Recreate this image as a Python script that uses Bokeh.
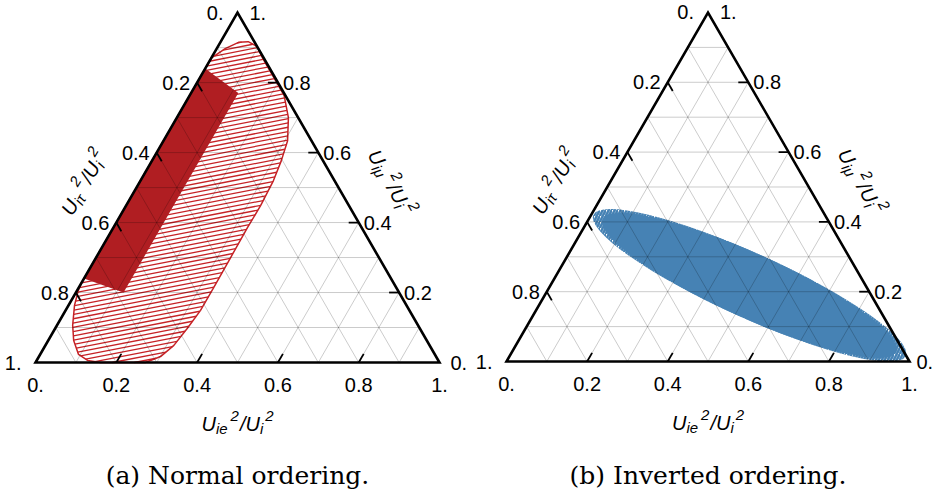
import math
from bokeh.plotting import figure
from bokeh.layouts import row
from bokeh.core.properties import value
from bokeh.embed import file_html
from bokeh.resources import INLINE

# ---------------- data ----------------
TICK_VALUES = [0.0, 0.2, 0.4, 0.6, 0.8, 1.0]
TICK_LABELS = ["0.", "0.2", "0.4", "0.6", "0.8", "1."]
GRID_VALUES = [0.1, 0.2, 0.3, 0.4, 0.5, 0.6, 0.7, 0.8, 0.9]

CAPTIONS = ["(a) Normal ordering.", "(b) Inverted ordering."]

# (a) Normal ordering: hatched region outline, ternary coords (U_ie^2, U_imu^2)
NO_HATCH_E = [0.000, 0.021, 0.045, 0.068, 0.097, 0.128, 0.185, 0.234, 0.276, 0.307,
              0.320, 0.329, 0.333, 0.332, 0.333, 0.334, 0.334, 0.327, 0.318, 0.301,
              0.272, 0.161, 0.126, 0.095, 0.063, 0.039, 0.015, 0.003, 0.000]
NO_HATCH_MU = [0.870, 0.897, 0.915, 0.917, 0.903, 0.869, 0.812, 0.763, 0.700, 0.634,
               0.577, 0.520, 0.449, 0.386, 0.300, 0.214, 0.149, 0.097, 0.049, 0.017,
               0.000, 0.000, 0.006, 0.023, 0.063, 0.106, 0.163, 0.206, 0.229]
# (a) solid region
NO_SOLID_E = [0.000, 0.117, 0.118, 0.000]
NO_SOLID_MU = [0.840, 0.770, 0.200, 0.240]

# (b) Inverted ordering: ellipse (centre in ternary coords, axes in units of side length)
IO_CENTER_E = 0.494
IO_CENTER_MU = 0.218
IO_MAJOR = 0.85
IO_SOLID_MAJOR = 0.80
IO_MINOR = 0.16
IO_ANGLE_DEG = -24.3

RED_SOLID = "#b01e22"
RED_LINE = "#c62226"
BLUE = "#4682b4"
SQ3 = math.sqrt(3) / 2

W, H = 468, 496
SANS = "Liberation Sans"
SERIF = "DejaVu Serif"


def cart(e, mu):
    return e + mu / 2.0, mu * SQ3


def hatch_segments(px, py, ang_deg, spacing):
    """Clip parallel lines (angle, spacing in data units) to the polygon."""
    a = math.radians(ang_deg)
    dx, dy = math.cos(a), math.sin(a)
    nx, ny = -dy, dx
    n = len(px)
    proj = [px[i] * nx + py[i] * ny for i in range(n)]
    cmin, cmax = min(proj), max(proj)
    xs, ys = [], []
    c = cmin + spacing / 2.0
    while c < cmax:
        pts = []
        for i in range(n):
            j = (i + 1) % n
            c1, c2 = proj[i], proj[j]
            if (c1 - c) * (c2 - c) < 0:
                t = (c - c1) / (c2 - c1)
                X = px[i] + t * (px[j] - px[i])
                Y = py[i] + t * (py[j] - py[i])
                pts.append((X * dx + Y * dy, X, Y))
        pts.sort()
        for k in range(0, len(pts) - 1, 2):
            xs.append([pts[k][1], pts[k + 1][1]])
            ys.append([pts[k][2], pts[k + 1][2]])
        c += spacing
    return xs, ys


CW = {"U": 0.722, "i": 0.222, "e": 0.556, "τ": 0.5, "μ": 0.576, "2": 0.556, "/": 0.278, " ": 0.278}


def run_w(t, sz):
    return sum(CW.get(c, 0.55) for c in t) * sz


def rich(p, s, bx, by, ang_deg, runs):
    th = math.radians(ang_deg)
    ux, uy = math.cos(th), math.sin(th)
    vx, vy = -uy, ux
    total = sum(run_w(t, sz) + gap for t, sz, rise, gap in runs)
    adv = -total / 2.0
    for t, sz, rise, gap in runs:
        px = adv * ux + rise * vx
        py = adv * uy + rise * vy
        p.text(x=[bx + px / s], y=[by + py / s], text=[t], angle=th,
               text_font=value(SANS), text_font_style="italic",
               text_font_size=f"{sz}px", text_align="left",
               text_baseline="alphabetic", text_color="black")
        adv += run_w(t, sz) + gap


def title_runs(sub):
    return [("U", 20, 0, 0), (sub, 15, -5, 3), ("2", 15, 8, 1),
            ("/", 20, 0, 0), ("U", 20, 0, 0), ("i", 15, -5, 2), ("2", 15, 8, 0)]


def panel(ox, oy, s, caption, kind, corner_off):
    p = figure(width=W, height=H, output_backend="svg", toolbar_location=None,
               x_axis_location=None, y_axis_location=None,
               x_range=(-ox / s, (W - ox) / s), y_range=(-(H - oy) / s, oy / s),
               min_border=0, outline_line_color=None, background_fill_color="white")
    p.grid.visible = False

    # ---- regions ----
    if kind == "normal":
        xs, ys = zip(*[cart(e, m) for e, m in zip(NO_HATCH_E, NO_HATCH_MU)])
        hx, hy = hatch_segments(list(xs), list(ys), 11.0, 4.2 / s)
        p.multi_line(hx, hy, line_color=RED_LINE, line_width=1.3)
        p.patch(list(xs), list(ys), fill_color=None, line_color=RED_LINE, line_width=1.5)
        xs, ys = zip(*[cart(e, m) for e, m in zip(NO_SOLID_E, NO_SOLID_MU)])
        p.patch(list(xs), list(ys), fill_color=RED_SOLID, line_color=None)
    else:
        cx, cy = cart(IO_CENTER_E, IO_CENTER_MU)
        p.ellipse(x=[cx], y=[cy], width=[IO_MAJOR], height=[IO_MINOR],
                  angle=math.radians(IO_ANGLE_DEG), fill_color=None,
                  hatch_pattern="/", hatch_color=BLUE, hatch_scale=6,
                  hatch_weight=2.5, line_color=None)
        p.ellipse(x=[cx], y=[cy], width=[IO_SOLID_MAJOR], height=[IO_MINOR],
                  angle=math.radians(IO_ANGLE_DEG), fill_color=BLUE, line_color=None)

    # ---- grid ----
    gx, gy = [], []
    for k in GRID_VALUES:
        a, b = cart(0, k), cart(1 - k, k)          # constant mu
        gx.append([a[0], b[0]]); gy.append([a[1], b[1]])
        a, b = cart(k, 0), cart(k, 1 - k)          # constant e
        gx.append([a[0], b[0]]); gy.append([a[1], b[1]])
        a, b = cart(1 - k, 0), cart(0, 1 - k)      # constant tau
        gx.append([a[0], b[0]]); gy.append([a[1], b[1]])
    p.multi_line(gx, gy, line_color="black", line_alpha=0.26, line_width=0.8)

    # ---- triangle ----
    p.patch([0, 1, 0.5], [0, 0, SQ3], fill_color=None, line_color="black",
            line_width=2.6, line_join="miter")

    # ---- ticks ----
    L = 10.0 / s
    tx, ty = [], []
    for v in TICK_VALUES[1:-1]:
        x0, y0 = cart(v, 0)                       # bottom axis (U_ie)
        tx.append([x0, x0 + 0.5 * L]); ty.append([y0, y0 + SQ3 * L])
        x0, y0 = cart(0, 1 - v)                   # left axis (U_itau)
        tx.append([x0, x0 + 0.5 * L]); ty.append([y0, y0 - SQ3 * L])
        x0, y0 = cart(1 - v, v)                   # right axis (U_imu)
        tx.append([x0, x0 - L]); ty.append([y0, y0])
    p.multi_line(tx, ty, line_color="black", line_width=1.8)

    # ---- tick labels ----
    fs = "20px"
    bx = [cart(v, 0)[0] for v in TICK_VALUES]
    p.text(x=bx, y=[-22.0 / s] * len(bx), text=TICK_LABELS, text_font=value(SANS),
           text_font_size=fs, text_align="center", text_baseline="middle")
    lx, ly = [], []
    for v in TICK_VALUES:
        x0, y0 = cart(0, 1 - v)
        off = 14.0 if v in (0.0, 1.0) else 7.0
        lx.append(x0 - off / s); ly.append(y0)
    p.text(x=lx, y=ly, text=TICK_LABELS, text_font=value(SANS), text_font_size=fs,
           text_align="right", text_baseline="middle")
    rx, ry = [], []
    for v in TICK_VALUES:
        x0, y0 = cart(1 - v, v)
        if v == 0.0:
            off = corner_off
        elif v == 1.0:
            off = 12.0
        else:
            off = 5.0
        rx.append(x0 + off / s); ry.append(y0)
    p.text(x=rx, y=ry, text=TICK_LABELS, text_font=value(SANS), text_font_size=fs,
           text_align="left", text_baseline="middle")

    # ---- axis titles ----
    rich(p, s, 0.5, -61.0 / s, 0, title_runs("ie"))
    al, out = 180.0, 48.0
    bxl = (al * 0.5 - out * SQ3) / s
    byl = (al * SQ3 + out * 0.5) / s
    rich(p, s, bxl, byl, 60, title_runs("iτ"))
    bxr = 1 + (-al * 0.5 + out * SQ3) / s
    rich(p, s, bxr, byl, -60, title_runs("iμ"))

    # ---- caption ----
    p.text(x=[0.5], y=[(oy - 475.0) / s], text=[caption], text_font=value(SERIF),
           text_font_size="25px", text_align="center", text_baseline="middle")
    return p


p1 = panel(35, 362, 404.0, CAPTIONS[0], "normal", 11.0)
p2 = panel(38, 361, 403.0, CAPTIONS[1], "inverted", 7.0)
layout = row(p1, p2)
open("out.html", "w").write(file_html(layout, INLINE))
